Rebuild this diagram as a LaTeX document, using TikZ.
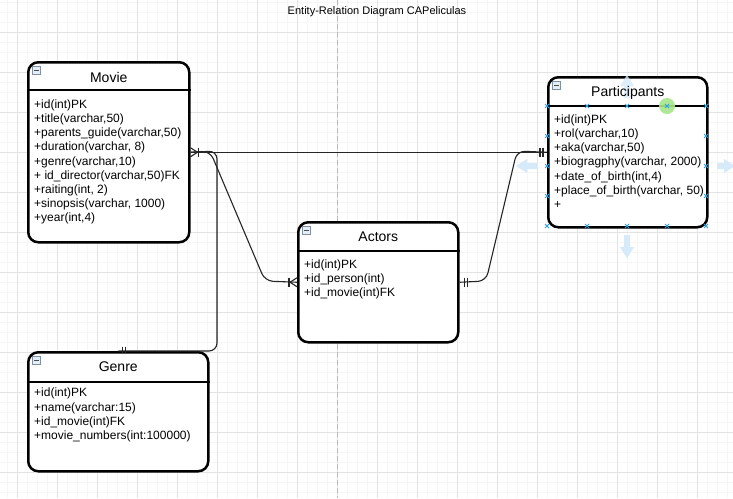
\documentclass[tikz,border=0pt]{standalone}
\usepackage{fontspec}
\setmainfont{Liberation Sans}
\definecolor{minorgrid}{HTML}{F6F6F6}
\definecolor{majorgrid}{HTML}{E3E3E3}
\definecolor{pagebreak}{HTML}{B8B8B8}
\definecolor{handleblue}{HTML}{2AA0E6}
\definecolor{hintblue}{HTML}{D6EAF9}
\definecolor{hintgreen}{HTML}{A6E68C}
\definecolor{iconfill}{HTML}{E4EEF8}
\definecolor{icondraw}{HTML}{8090A0}
\tikzset{
  entity/.style={draw=black, line width=2.5pt, rounded corners=10pt, fill=white,
    anchor=north west, inner sep=0pt},
  hdrline/.style={draw=black, line width=2.2pt},
  etitle/.style={inner sep=0pt, font=\fontsize{14}{16}\selectfont},
  attrs/.style={inner sep=0pt, anchor=north west, align=left,
    font=\fontsize{12}{14.2}\selectfont},
  conn/.style={draw=black!85, line width=1.1pt},
  connround/.style={conn, rounded corners=8pt},
  minusicon/.style={draw=icondraw, fill=iconfill, line width=0.8pt,
    minimum size=8pt, inner sep=0pt, anchor=north west,
    path picture={\draw[black!70, line width=0.9pt]
      ([xshift=1.8pt]path picture bounding box.west) --
      ([xshift=-1.8pt]path picture bounding box.east);}},
  handle/.style={draw=handleblue, line width=0.9pt},
  hint/.style={fill=hintblue, draw=none},
  titletext/.style={inner sep=0pt, font=\fontsize{11}{13}\selectfont}
}
\begin{document}
\begin{tikzpicture}[x=1pt,y=-1pt]
\useasboundingbox (0,0) rectangle (733,498);
\fill[white] (0,0) rectangle (733,498);
% grid
\foreach \gx in {7,17,...,727} {\draw[minorgrid, line width=0.8pt] (\gx,0) -- (\gx,498);}
\foreach \gy in {2,12,...,492} {\draw[minorgrid, line width=0.8pt] (0,\gy) -- (733,\gy);}
\foreach \gx in {17,57,...,697} {\draw[majorgrid, line width=0.9pt] (\gx,0) -- (\gx,498);}
\foreach \gy in {32,72,...,472} {\draw[majorgrid, line width=0.9pt] (0,\gy) -- (733,\gy);}
\draw[pagebreak, line width=0.9pt, dash pattern=on 5pt off 3pt] (337,0) -- (337,498);

% title
\node[titletext] (diagtitle) at (377,12) {Entity-Relation Diagram CAPeliculas};

% bend points of the connectors
\coordinate (mvp) at (210,151);
\coordinate (mva) at (265,281);
\coordinate (apa) at (486,281);
\coordinate (app) at (517,151);
\coordinate (gtop) at (217,151);
\coordinate (gbot) at (217,351);

% entities
\node[entity, minimum width=161pt, minimum height=180pt] (movie) at (27,61) {};
\node[entity, minimum width=159pt, minimum height=150pt] (participants) at (547,76) {};
\node[entity, minimum width=160pt, minimum height=120pt] (actors) at (297,221) {};
\node[entity, minimum width=180pt, minimum height=119pt] (genre) at (27,351) {};

% connectors
\draw[connround] (movie.east) -- (participants.west);
\draw[connround] (movie.east) -- (mvp) -- (mva) -- (actors.west);
\draw[connround] (actors.east) -- (apa) -- (app) -- (participants.west);
\draw[connround] (movie.east) -- (gtop) -- (gbot) -- (genre.north);

% header lines
\draw[hdrline] ([yshift=-29pt]movie.north west) -- ([yshift=-29pt]movie.north east);
\draw[hdrline] ([yshift=-30pt]participants.north west) -- ([yshift=-30pt]participants.north east);
\draw[hdrline] ([yshift=-30pt]actors.north west) -- ([yshift=-30pt]actors.north east);
\draw[hdrline] ([yshift=-31pt]genre.north west) -- ([yshift=-31pt]genre.north east);

% editor hints around Participants (behind its texts)
\fill[hint, opacity=0.8] (627,75) -- (634,86) -- (630,86) -- (630,98) -- (624,98) -- (624,86) -- (620,86) -- cycle;
\fill[hint] (627,258) -- (634,247) -- (630,247) -- (630,235) -- (624,235) -- (624,247) -- (620,247) -- cycle;
\fill[hint] (516,166) -- (527,159) -- (527,163) -- (538,163) -- (538,169) -- (527,169) -- (527,173) -- cycle;
\fill[hint] (735,166) -- (724,159) -- (724,163) -- (717,163) -- (717,169) -- (724,169) -- (724,173) -- cycle;

% icons
\node[minusicon] (movieicon) at ([xshift=5pt,yshift=-5pt]movie.north west) {};
\node[minusicon] (participantsicon) at ([xshift=5pt,yshift=-5pt]participants.north west) {};
\node[minusicon] (actorsicon) at ([xshift=5pt,yshift=-5pt]actors.north west) {};
\node[minusicon] (genreicon) at ([xshift=5pt,yshift=-5pt]genre.north west) {};

% titles
\node[etitle] (movietitle) at ([yshift=-16pt]movie.north) {Movie};
\node[etitle] (participantstitle) at ([yshift=-16.5pt]participants.north) {Participants};
\node[etitle] (actorstitle) at ([yshift=-16pt]actors.north) {Actors};
\node[etitle] (genretitle) at ([yshift=-16pt]genre.north) {Genre};

% attributes
\node[attrs] (movieattrs) at ([xshift=7pt,yshift=-38.5pt]movie.north west)
 {+id(int)PK\\+title(varchar,50)\\+parents\_guide(varchar,50)\\+duration(varchar, 8)\\+genre(varchar,10)\\+ id\_director(varchar,50)FK\\+raiting(int, 2)\\+sinopsis(varchar, 1000)\\+year(int,4)};
\node[attrs] (participantsattrs) at ([xshift=7pt,yshift=-38.5pt]participants.north west)
 {+id(int)PK\\+rol(varchar,10)\\+aka(varchar,50)\\+biogragphy(varchar, 2000)\\+date\_of\_birth(int,4)\\+place\_of\_birth(varchar, 50)\\+};
\node[attrs] (actorsattrs) at ([xshift=7pt,yshift=-38.5pt]actors.north west)
 {+id(int)PK\\+id\_person(int)\\+id\_movie(int)FK};
\node[attrs] (genreattrs) at ([xshift=7pt,yshift=-37pt]genre.north west)
 {+id(int)PK\\+name(varchar:15)\\+id\_movie(int)FK\\+movie\_numbers(int:100000)};

% markers: one-or-many at Movie
\draw[conn] ([yshift=4.5pt]movie.east) -- ([xshift=7pt]movie.east) -- ([yshift=-4.5pt]movie.east);
\draw[conn] ([xshift=8pt,yshift=4.5pt]movie.east) -- ([xshift=8pt,yshift=-4.5pt]movie.east);
% one-or-many at Actors west
\draw[conn] ([yshift=4.5pt]actors.west) -- ([xshift=-7pt]actors.west) -- ([yshift=-4.5pt]actors.west);
\draw[conn] ([xshift=-8pt,yshift=4.5pt]actors.west) -- ([xshift=-8pt,yshift=-4.5pt]actors.west);
% one-and-only-one markers
\draw[conn] ([xshift=-4pt,yshift=4.5pt]participants.west) -- ([xshift=-4pt,yshift=-4.5pt]participants.west);
\draw[conn] ([xshift=-7pt,yshift=4.5pt]participants.west) -- ([xshift=-7pt,yshift=-4.5pt]participants.west);
\draw[conn] ([xshift=5pt,yshift=4.5pt]actors.east) -- ([xshift=5pt,yshift=-4.5pt]actors.east);
\draw[conn] ([xshift=8pt,yshift=4.5pt]actors.east) -- ([xshift=8pt,yshift=-4.5pt]actors.east);
\draw[conn] ([xshift=4pt,yshift=4.5pt]genre.north) -- ([xshift=4pt,yshift=-2pt]genre.north);
\draw[conn] ([xshift=7.5pt,yshift=4.5pt]genre.north) -- ([xshift=7.5pt,yshift=-2pt]genre.north);

% selection handles
\fill[hintgreen, opacity=0.9] (667,106) circle (8pt);
\foreach \hx/\hy in {547/106,587/106,627/106,667/106,706/106,
                     547/136,547/166,547/196,706/136,706/166,706/196,
                     547/226,587/226,627/226,667/226,706/226} {
  \draw[handle] (\hx-2,\hy-2) -- (\hx+2,\hy+2) (\hx-2,\hy+2) -- (\hx+2,\hy-2);
}
\end{tikzpicture}
\end{document}
